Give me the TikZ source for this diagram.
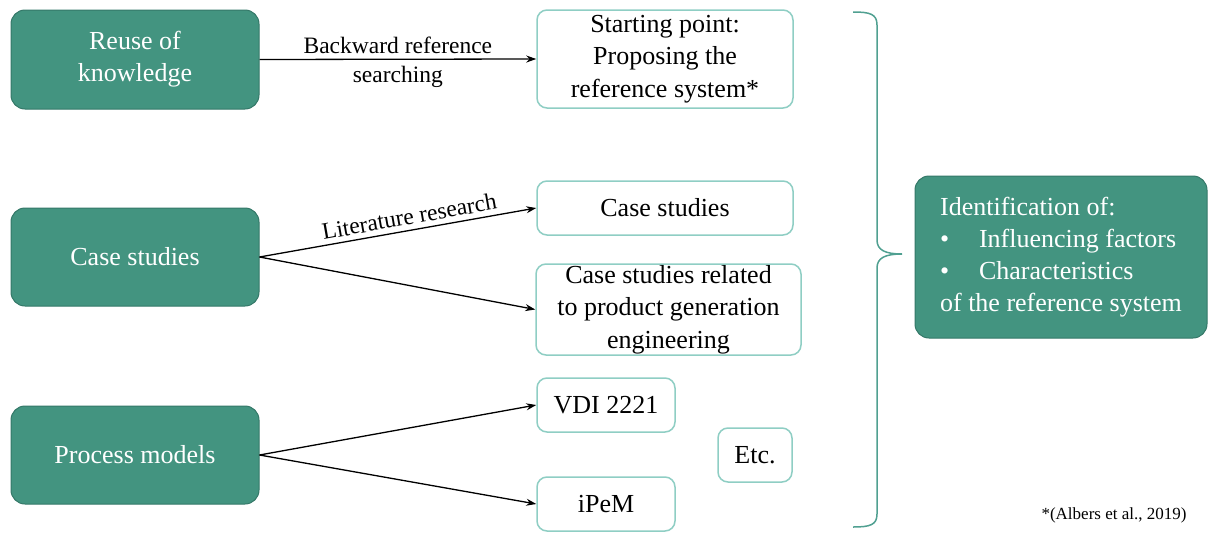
\documentclass[tikz,border=0pt]{standalone}
\usepackage{fontspec}
\setmainfont{Liberation Serif}
\usetikzlibrary{arrows.meta}
\definecolor{tealfill}{RGB}{67,148,128}
\definecolor{tealdark}{RGB}{52,120,104}
\definecolor{lightteal}{RGB}{143,206,196}
\definecolor{bracecol}{RGB}{80,160,145}
\begin{document}
\begin{tikzpicture}[x=1pt,y=-1pt,
 darkbox/.style={draw=tealdark, fill=tealfill, rounded corners=14pt, line width=1pt, text=white, font=\fontsize{26}{32}\selectfont, align=center, inner sep=0pt},
 lightbox/.style={draw=lightteal, fill=white, rounded corners=10pt, line width=1.5pt, font=\fontsize{26}{32.5}\selectfont, align=center, inner sep=0pt},
 conn/.style={line width=1.3pt, -{Stealth[length=10pt,width=7pt]}},
 lbl/.style={font=\fontsize{23.5}{29}\selectfont, align=center, inner sep=0pt}]
\useasboundingbox (0,0) rectangle (1208,533);

\node[darkbox, minimum width=248pt, minimum height=99pt] (reuse) at (135,59.5) {Reuse of\\knowledge};
\node[darkbox, minimum width=248pt, minimum height=98pt] (case) at (135,257) {Case studies};
\node[darkbox, minimum width=248pt, minimum height=98pt] (proc) at (135,455) {Process models};

\node[lightbox, minimum width=256pt, minimum height=98pt] (start) at (665,59) {Starting point:\\Proposing the\\reference system*};
\node[lightbox, minimum width=256pt, minimum height=54pt] (cs1) at (665,208) {Case studies};
\node[lightbox, minimum width=265pt, minimum height=91pt] (cs2) at (668.5,309.5) {Case studies related\\to product generation\\engineering};
\node[lightbox, minimum width=138pt, minimum height=54pt] (vdi) at (606,405) {VDI 2221};
\node[lightbox, minimum width=138pt, minimum height=54pt] (ipem) at (606,504) {iPeM};
\node[lightbox, minimum width=74pt, minimum height=54pt] (etc) at (755,455) {Etc.};

\node[darkbox, minimum width=292pt, minimum height=162pt, align=left] (ident) at (1061,257) {Identification of:\\\makebox[39pt][l]{\textbullet}Influencing factors\\\makebox[39pt][l]{\textbullet}Characteristics\\of the reference system};

\draw[conn] (reuse.east) -- (start.west) node[midway, lbl, yshift=-3.5pt] {Backward reference\\searching};
\draw[conn] (case.east) -- (cs1.west) node[pos=0.55, above=5pt, sloped, lbl] {Literature research};
\draw[conn] (case.east) -- (cs2.west);
\draw[conn] (proc.east) -- (vdi.west);
\draw[conn] (proc.east) -- (ipem.west);

\coordinate (btop) at (853,12);
\coordinate (btip) at (902,254);
\coordinate (bbot) at (853,527);
\draw[bracecol, line width=1.5pt] (btop) .. controls (870,12) and (877,14) .. (877,25) -- (877,240) .. controls (877,250) and (885,254) .. (btip) .. controls (885,254) and (877,258) .. (877,268) -- (877,514) .. controls (877,525) and (870,527) .. (bbot);

\node[font=\fontsize{17}{20}\selectfont, inner sep=0pt] (note) at (1114,515) {*(Albers et al., 2019)};
\end{tikzpicture}
\end{document}
